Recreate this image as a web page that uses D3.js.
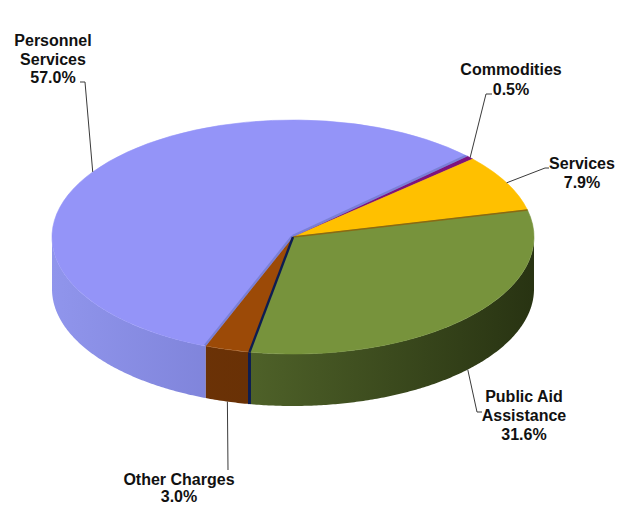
<!DOCTYPE html>
<html>
<head>
<meta charset="utf-8">
<script src="https://cdn.jsdelivr.net/npm/d3@7"></script>
<style>
  html, body { margin: 0; background: #ffffff; }
  text { font-family: "Liberation Sans", Arial, sans-serif; font-weight: bold; fill: #111111; }
</style>
</head>
<body>
<svg id="chart" width="628" height="506"></svg>
<script>
// Budget shares by expense category (percent)
const categories = ["Personnel Services", "Commodities", "Services", "Public Aid Assistance", "Other Charges"];
const shares = [57.0, 0.5, 7.9, 31.6, 3.0];
const labelLines = [
  ["Personnel", "Services", "57.0%"],
  ["Commodities", "0.5%"],
  ["Services", "7.9%"],
  ["Public Aid", "Assistance", "31.6%"],
  ["Other Charges", "3.0%"]
];
const topColors = ["#9494f8", "#7e137e", "#ffc000", "#77933c", "#9c4a07"];
const sideStops = [
  ["#9095ec", "#6d71c7"],
  ["#5c0d5c", "#5c0d5c"],
  ["#c99700", "#c99700"],
  ["#4f6229", "#283312"],
  ["#703507", "#5f2b04"]
];

// Pie geometry (tilted disc)
const cx = 293, cy = 237, rx = 241, ry = 117, depth = 52;
const startDeg = 201.2;
const rad = d => d * Math.PI / 180;

const svg = d3.select("#chart");
const defs = svg.append("defs");

const pie = d3.pie().sort(null).value(d => d)
  .startAngle(rad(startDeg)).endAngle(rad(startDeg) + 2 * Math.PI);
const arcs = pie(shares);

// projection of (angle, radial fraction, drop) onto the page
const sx = d3.scaleLinear().domain([-1, 1]).range([cx - rx, cx + rx]);
const sy = d3.scaleLinear().domain([-1, 1]).range([cy - ry, cy + ry]);
const px = (a, r = 1) => sx(r * Math.sin(a));
const py = (a, r = 1, h = 0) => sy(-r * Math.cos(a)) + h;

// side-wall gradients
arcs.forEach((d, i) => {
  const g = defs.append("linearGradient")
    .attr("id", "side" + i)
    .attr("gradientUnits", "userSpaceOnUse")
    .attr("x1", cx - rx).attr("x2", cx + rx).attr("y1", 0).attr("y2", 0);
  g.append("stop").attr("offset", i === 3 ? 0.4 : 0).attr("stop-color", sideStops[i][0]);
  g.append("stop").attr("offset", i === 0 ? 0.7 : 1).attr("stop-color", sideStops[i][1]);
});

// outer side walls: only the front half of the rim is visible
function sidePath(a0, a1) {
  const p = d3.path();
  [0, 2 * Math.PI].forEach(k => {
    const lo = Math.max(a0, Math.PI / 2 + k), hi = Math.min(a1, 3 * Math.PI / 2 + k);
    if (hi <= lo) return;
    const n = Math.max(4, Math.ceil((hi - lo) / 0.01));
    const ts = d3.range(n + 1).map(j => lo + (hi - lo) * j / n);
    p.moveTo(px(ts[0]), py(ts[0]));
    ts.forEach(t => p.lineTo(px(t), py(t)));
    ts.slice().reverse().forEach(t => p.lineTo(px(t), py(t, 1, depth)));
    p.closePath();
  });
  return p.toString();
}

const sides = svg.append("g");
arcs.forEach((d, i) => {
  sides.append("path")
    .attr("d", sidePath(d.startAngle, d.endAngle))
    .attr("fill", `url(#side${i})`);
});

// thin dark seam at the end of Public Aid Assistance
const seam = arcs[3].endAngle;
sides.append("line")
  .attr("x1", px(seam)).attr("y1", py(seam))
  .attr("x2", px(seam)).attr("y2", py(seam, 1, depth))
  .attr("stroke", "#0d1d52").attr("stroke-width", 3);

// top faces
const arcGen = d3.arc().innerRadius(0).outerRadius(rx);
const tops = svg.append("g")
  .attr("transform", `translate(${cx},${cy}) scale(1,${ry / rx})`);
arcs.forEach((d, i) => {
  tops.append("path")
    .attr("d", arcGen(d))
    .attr("fill", topColors[i])
    .attr("stroke", topColors[i])
    .attr("stroke-width", 0.6)
    .attr("vector-effect", "non-scaling-stroke");
});

// bevel band along the radial edges of the Personnel Services face
defs.append("clipPath").attr("id", "clipP")
  .append("path")
  .attr("transform", `translate(${cx},${cy}) scale(1,${ry / rx})`)
  .attr("d", arcGen(arcs[0]));
const bevel = svg.append("g").attr("clip-path", "url(#clipP)");
[arcs[0].startAngle, arcs[0].endAngle].forEach(a => {
  bevel.append("line")
    .attr("x1", cx).attr("y1", cy).attr("x2", px(a)).attr("y2", py(a))
    .attr("stroke", "#7a7fd6").attr("stroke-width", 4.5);
});

// seams between adjacent faces
svg.append("line")
  .attr("x1", cx).attr("y1", cy).attr("x2", px(arcs[2].endAngle)).attr("y2", py(arcs[2].endAngle))
  .attr("stroke", "#8a6a12").attr("stroke-width", 1.6);
svg.append("line")
  .attr("x1", cx).attr("y1", cy).attr("x2", px(seam)).attr("y2", py(seam))
  .attr("stroke", "#0d1d52").attr("stroke-width", 2.4);

// labels and leader lines
const labelLayout = [
  { x: 53,  y: 46,  lh: 18.5, rim: 0,     path: [[85, 82], [80, 82]] },
  { x: 511, y: 75,  lh: 20,   rim: 0,     path: [[486, 94], [492, 94]] },
  { x: 582, y: 169, lh: 19,   rim: 0,     path: [[545, 168], [549, 168]] },
  { x: 524, y: 402, lh: 19,   rim: depth, path: [[477, 412], [482, 412]] },
  { x: 179, y: 485, lh: 16.5, rim: depth, path: [[228, 470]] }
];

const labels = svg.append("g");
arcs.forEach((d, i) => {
  const L = labelLayout[i];
  const mid = (d.startAngle + d.endAngle) / 2;
  const pts = [[px(mid), py(mid, 1, L.rim)]].concat(L.path);
  labels.append("path")
    .attr("d", d3.line()(pts))
    .attr("fill", "none")
    .attr("stroke", "#3a3a3a")
    .attr("stroke-width", 1);
  const t = labels.append("text")
    .attr("text-anchor", "middle")
    .attr("font-size", 16);
  labelLines[i].forEach((s, j) => {
    t.append("tspan").attr("x", L.x).attr("y", L.y + j * L.lh).text(s);
  });
});
</script>
</body>
</html>
